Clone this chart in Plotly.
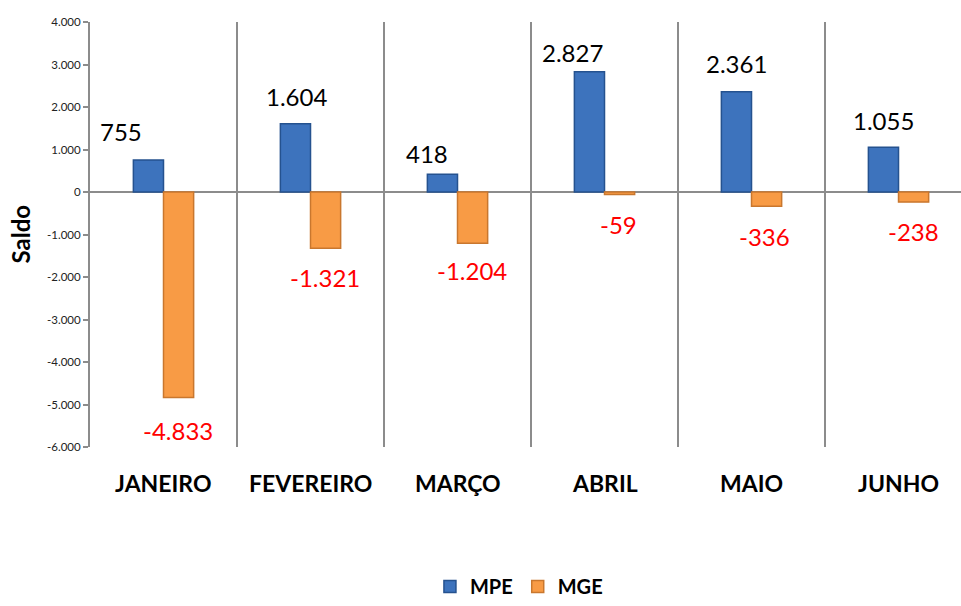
import plotly.graph_objects as go

categories = ["JANEIRO", "FEVEREIRO", "MARÇO", "ABRIL", "MAIO", "JUNHO"]
mpe_values = [755, 1604, 418, 2827, 2361, 1055]
mge_values = [-4833, -1321, -1204, -59, -336, -238]
mpe_text = ["755", "1.604", "418", "2.827", "2.361", "1.055"]
mge_text = ["-4.833", "-1.321", "-1.204", "-59", "-336", "-238"]
y_tickvals = [4000, 3000, 2000, 1000, 0, -1000, -2000, -3000, -4000, -5000, -6000]
y_ticktext = ["4.000", "3.000", "2.000", "1.000", "0", "-1.000", "-2.000", "-3.000", "-4.000", "-5.000", "-6.000"]

# label placement offsets (pixels) — styling only
mpe_xshift = [-43, -14, -31, -32, -15, -15]
mpe_yshift = [28, 27, 21, 19, 28, 27]
mge_xshift = [14, 14, 14, 14, 13, 15]
mge_yshift = [-33, -29, -27, -30, -30, -29]

FONT = "Lato"
xs = list(range(len(categories)))

fig = go.Figure()
fig.add_trace(go.Bar(
    x=xs, y=mpe_values, name="<b>MPE</b>",
    marker=dict(color="#3D73BD", line=dict(color="#25528F", width=1.5)),
))
fig.add_trace(go.Bar(
    x=xs, y=mge_values, name="<b>MGE</b>",
    marker=dict(color="#F89B45", line=dict(color="#C9772E", width=1.5)),
))

annotations = []
for i in xs:
    annotations.append(dict(x=i, y=mpe_values[i], xref="x", yref="y", text=mpe_text[i],
                            showarrow=False, xanchor="center", yanchor="middle",
                            xshift=mpe_xshift[i], yshift=mpe_yshift[i],
                            font=dict(family=FONT, size=24, color="#000000")))
    annotations.append(dict(x=i, y=mge_values[i], xref="x", yref="y", text=mge_text[i],
                            showarrow=False, xanchor="center", yanchor="middle",
                            xshift=mge_xshift[i], yshift=mge_yshift[i],
                            font=dict(family=FONT, size=24, color="#FF0000")))
    annotations.append(dict(x=i, y=0, xref="x", yref="paper", text="<b>%s</b>" % categories[i],
                            showarrow=False, xanchor="center", yanchor="middle",
                            yshift=-36, font=dict(family=FONT, size=23, color="#000000")))

# y-axis title placed at pixel (20, 234.5) of the figure
annotations.append(dict(x=(20 - 90) / 871.0, y=(447 - 234.5) / 425.0, xref="paper", yref="paper",
                        text="<b>Saldo</b>", showarrow=False, textangle=-90,
                        xanchor="center", yanchor="middle",
                        font=dict(family=FONT, size=24, color="#000000")))

fig.update_layout(
    width=961, height=606,
    margin=dict(l=90, r=0, t=22, b=159, autoexpand=False),
    paper_bgcolor="white", plot_bgcolor="white",
    barmode="group", bargap=0.59, bargroupgap=0,
    font=dict(family=FONT, color="#222222"),
    annotations=annotations,
    showlegend=True,
    legend=dict(orientation="h", xref="container", yref="container",
                x=0.540, y=0.0, xanchor="center", yanchor="bottom",
                font=dict(family=FONT, size=20, color="#000000"),
                itemwidth=30, tracegroupgap=0, traceorder="normal"),
    xaxis=dict(range=[-0.5, 5.425], showticklabels=False, showgrid=False,
               zeroline=False, showline=False, ticks="", automargin=False,
               minor=dict(tickvals=[0.5, 1.5, 2.5, 3.5, 4.5, 5.5], showgrid=True,
                          gridcolor="#8C8C8C", gridwidth=1.5, ticks="")),
    yaxis=dict(range=[-6000, 4000], tickvals=y_tickvals, ticktext=y_ticktext,
               showgrid=False, zeroline=True, zerolinecolor="#8C8C8C", zerolinewidth=1.5,
               showline=True, linecolor="#8C8C8C", linewidth=2, automargin=False,
               ticks="outside", ticklen=5, tickcolor="#8C8C8C", tickwidth=1.5,
               tickfont=dict(family=FONT, size=11.5, color="#222222")),
)

fig.write_html("out.html", config={"displayModeBar": False},
               post_script="document.body.style.margin='0px';document.body.style.padding='0px';")
